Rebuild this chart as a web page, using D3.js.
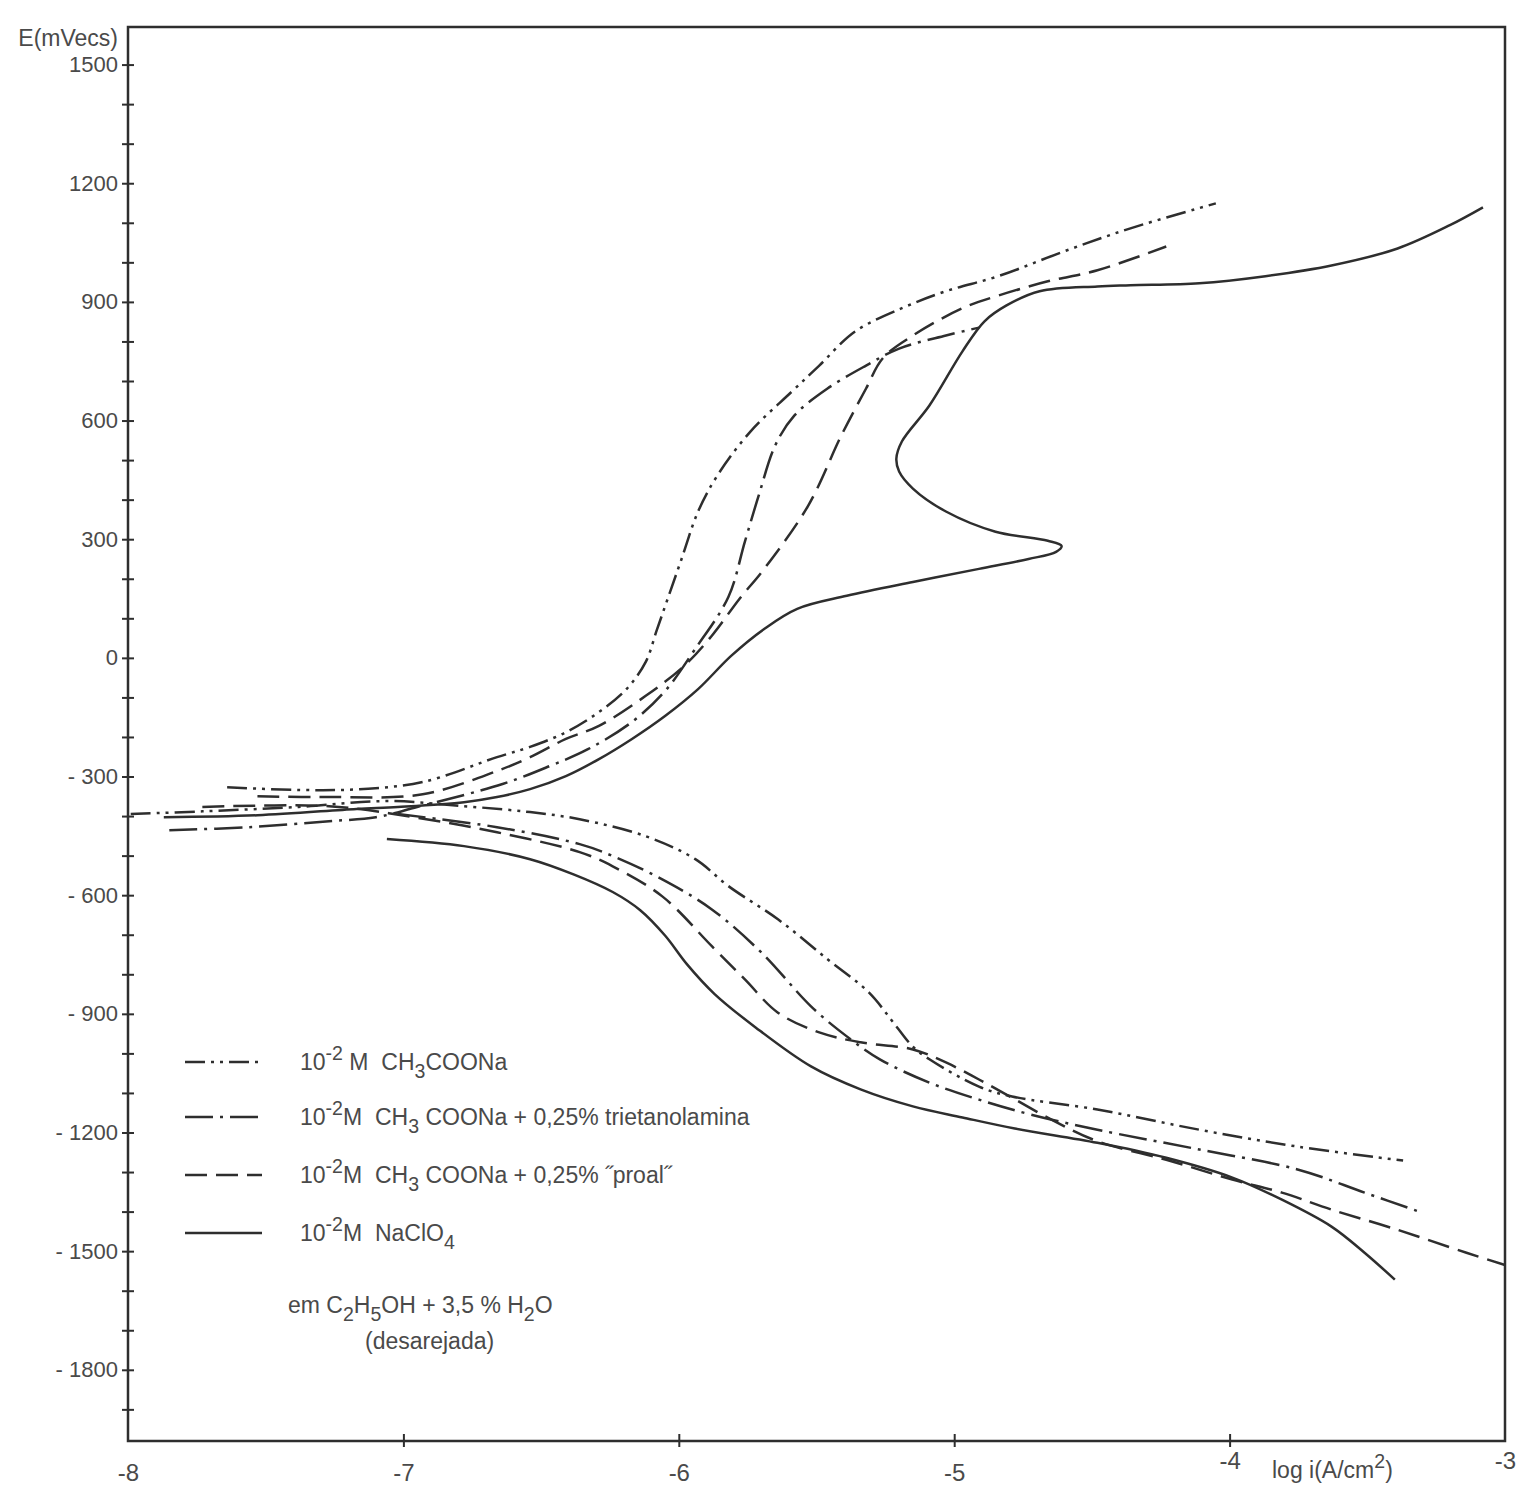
<!DOCTYPE html>
<html>
<head>
<meta charset="utf-8">
<script src="https://cdn.jsdelivr.net/npm/d3@7"></script>
<style>
body { margin: 0; background: #fff; }
svg text { font-family: "Liberation Sans", "DejaVu Sans", sans-serif; fill: #4a4a4a; }
</style>
</head>
<body>
<div id="chart"></div>
<script>
// log i (A/cm2), E (mV vs ECS)
const acetatoAnodic = [[-7.64,-327],[-7.38,-334],[-7.16,-332],[-6.93,-314],[-6.66,-251],[-6.54,-225],[-6.41,-188],[-6.29,-137],[-6.19,-79],[-6.12,-10],[-6.08,70],[-6.04,150],[-5.99,250],[-5.93,370],[-5.86,461],[-5.74,572],[-5.59,673],[-5.49,739],[-5.36,825],[-5.19,884],[-5.03,927],[-4.84,965],[-4.60,1028],[-4.36,1086],[-4.05,1149]];
const acetatoCathodic = [[-7.99,-395],[-7.73,-388],[-7.38,-377],[-7.06,-362],[-6.78,-375],[-6.54,-390],[-6.36,-408],[-6.12,-451],[-5.94,-509],[-5.82,-577],[-5.64,-661],[-5.46,-762],[-5.31,-846],[-5.21,-932],[-5.15,-983],[-5.09,-1015],[-4.91,-1084],[-4.79,-1109],[-4.48,-1142],[-4.11,-1193],[-3.75,-1236],[-3.37,-1271]];

const trietAnodic = [[-7.85,-436],[-7.56,-428],[-7.27,-413],[-7.10,-403],[-6.95,-377],[-6.64,-319],[-6.47,-274],[-6.33,-231],[-6.17,-162],[-6.05,-84],[-5.94,23],[-5.82,154],[-5.76,294],[-5.71,410],[-5.65,537],[-5.58,613],[-5.46,681],[-5.32,739],[-5.20,782],[-5.03,815],[-4.91,835]];
const trietCathodic = [[-7.02,-395],[-6.66,-428],[-6.36,-471],[-6.24,-501],[-6.06,-560],[-5.88,-636],[-5.70,-745],[-5.52,-881],[-5.39,-957],[-5.27,-1015],[-5.09,-1074],[-4.91,-1117],[-4.72,-1155],[-4.48,-1193],[-4.11,-1243],[-3.75,-1294],[-3.51,-1352],[-3.30,-1403]];

const proalAnodic = [[-7.53,-350],[-7.27,-352],[-6.93,-345],[-6.66,-286],[-6.54,-251],[-6.41,-205],[-6.29,-172],[-6.12,-96],[-5.98,-20],[-5.88,56],[-5.78,149],[-5.69,225],[-5.53,385],[-5.41,562],[-5.32,681],[-5.26,757],[-5.15,815],[-4.97,884],[-4.84,916],[-4.66,952],[-4.48,980],[-4.23,1040]];
const proalCathodic = [[-7.73,-377],[-7.27,-375],[-6.96,-403],[-6.66,-441],[-6.36,-491],[-6.24,-527],[-6.06,-603],[-5.88,-729],[-5.76,-813],[-5.64,-897],[-5.49,-947],[-5.34,-972],[-5.15,-990],[-5.03,-1023],[-4.91,-1066],[-4.79,-1112],[-4.64,-1170],[-4.48,-1222],[-4.23,-1269],[-3.99,-1319],[-3.81,-1352],[-3.63,-1395],[-3.39,-1446],[-3.14,-1504],[-3.00,-1535]];

const perclAnodic = [[-7.87,-403],[-7.53,-398],[-7.17,-382],[-7.02,-377],[-6.78,-365],[-6.66,-352],[-6.54,-332],[-6.41,-299],[-6.29,-256],[-6.17,-205],[-6.05,-147],[-5.93,-79],[-5.81,5],[-5.69,73],[-5.57,124],[-5.39,157],[-5.15,192],[-4.91,225],[-4.73,250],[-4.63,268],[-4.61,283],[-4.66,296],[-4.85,319],[-5.03,370],[-5.15,428],[-5.20,471],[-5.21,504],[-5.19,547],[-5.09,638],[-4.97,775],[-4.89,851],[-4.81,891],[-4.69,927],[-4.48,939],[-4.36,942],[-4.11,947],[-3.87,965],[-3.63,992],[-3.39,1035],[-3.20,1094],[-3.08,1139]];
const perclCathodic = [[-7.06,-458],[-6.78,-476],[-6.54,-509],[-6.38,-548],[-6.24,-592],[-6.14,-638],[-6.05,-702],[-5.97,-775],[-5.87,-850],[-5.72,-935],[-5.52,-1033],[-5.34,-1091],[-5.15,-1134],[-4.97,-1162],[-4.78,-1190],[-4.48,-1226],[-4.23,-1264],[-3.99,-1314],[-3.81,-1370],[-3.63,-1438],[-3.51,-1504],[-3.40,-1572]];

const legendLabels = [
  "10^{-2} M  CH_{3}COONa",
  "10^{-2}M  CH_{3} COONa + 0,25% trietanolamina",
  "10^{-2}M  CH_{3} COONa + 0,25% \u02ddproal\u02dd",
  "10^{-2}M  NaClO_{4}"
];
const noteLines = ["em C_{2}H_{5}OH + 3,5 % H_{2}O", "(desarejada)"];

const xTicks = [-8, -7, -6, -5, -4, -3];
const yMinorTicks = d3.range(-1900, 1501, 100);

const W = 1518, H = 1489;
const plotL = 128, plotR = 1505, plotT = 27, plotB = 1441;

const x = d3.scaleLinear().domain([-8, -3]).range([plotL, plotR]);
const y = d3.scaleLinear().domain([-1980, 1595]).range([plotB, plotT]);

const svg = d3.select("#chart").append("svg")
    .attr("width", W)
    .attr("height", H);

const ink = "#2e2e2e";

// frame
svg.append("path")
    .attr("d", `M${plotL},${plotT}H${plotR}V${plotB}H${plotL}Z`)
    .attr("fill", "none")
    .attr("stroke", ink)
    .attr("stroke-width", 2.5);

// y axis, ticks cross the line
const fmt = d => d < 0 ? "- " + Math.abs(d) : String(d);
const yAxis = svg.append("g")
    .attr("transform", `translate(${plotL},0)`)
    .call(d3.axisLeft(y).tickValues(yMinorTicks).tickSize(6).tickPadding(4)
        .tickFormat(d => d % 300 === 0 ? fmt(d) : ""));
yAxis.select(".domain").remove();
yAxis.selectAll(".tick line").attr("x1", 6).attr("x2", -6).attr("stroke", ink).attr("stroke-width", 2);
yAxis.selectAll(".tick text").attr("font-size", 22).style("white-space", "pre");

// x axis
const xAxis = svg.append("g")
    .attr("transform", `translate(0,${plotB})`)
    .call(d3.axisBottom(x).tickValues(xTicks).tickSize(6).tickPadding(17)
        .tickFormat(d => d));
xAxis.select(".domain").remove();
xAxis.selectAll(".tick line")
    .attr("y1", -7).attr("y2", 6)
    .attr("stroke", ink).attr("stroke-width", 2)
    .attr("display", d => (d === -8 || d === -3) ? "none" : null);
xAxis.selectAll(".tick text").attr("font-size", 24)
    .attr("dy", d => d >= -4 ? "0.2em" : "0.71em");

// rich text with sub/superscripts
function rich(text, str) {
  let shift = 0;
  str.split(/(\^\{[^}]*\}|_\{[^}]*\})/).filter(s => s.length).forEach(s => {
    let target = 0, t = s, small = false;
    if (s.startsWith("^{")) { target = -10; t = s.slice(2, -1); small = true; }
    else if (s.startsWith("_{")) { target = 8; t = s.slice(2, -1); small = true; }
    text.append("tspan").attr("dy", target - shift)
        .attr("font-size", small ? "0.85em" : null).text(t);
    shift = target;
  });
}

// axis titles
svg.append("text").attr("x", 118).attr("y", 46).attr("text-anchor", "end")
    .attr("font-size", 23).text("E(mVecs)");
rich(svg.append("text").attr("x", 1272).attr("y", 1478).attr("font-size", 23), "log i(A/cm^{2})");

// curves
const series = [
  { dash: "20,6,3,6,3,6", branches: [acetatoAnodic, acetatoCathodic] },
  { dash: "28,7,3,7", branches: [trietAnodic, trietCathodic] },
  { dash: "22,9", branches: [proalAnodic, proalCathodic] },
  { dash: null, branches: [perclAnodic, perclCathodic] }
];

const line = d3.line()
    .x(d => x(d[0]))
    .y(d => y(d[1]))
    .curve(d3.curveCatmullRom.alpha(0.5));

const curves = svg.append("g").attr("fill", "none").attr("stroke", ink).attr("stroke-width", 2.5);
series.forEach(s => {
  s.branches.forEach(b => {
    curves.append("path")
        .attr("d", line(b))
        .attr("stroke-dasharray", s.dash);
  });
});

// legend
const rowsY = [1062, 1117, 1175, 1233];
const legend = svg.append("g");
series.forEach((s, i) => {
  legend.append("line")
      .attr("x1", 185).attr("x2", 262)
      .attr("y1", rowsY[i]).attr("y2", rowsY[i])
      .attr("stroke", ink).attr("stroke-width", 2.5)
      .attr("stroke-dasharray", s.dash);
  const t = legend.append("text")
      .attr("x", 300).attr("y", rowsY[i] + 8)
      .attr("font-size", 23)
      .style("white-space", "pre");
  rich(t, legendLabels[i]);
});
rich(legend.append("text").attr("x", 288).attr("y", 1313).attr("font-size", 23).style("white-space", "pre"), noteLines[0]);
rich(legend.append("text").attr("x", 365).attr("y", 1349).attr("font-size", 23), noteLines[1]);
</script>
</body>
</html>
